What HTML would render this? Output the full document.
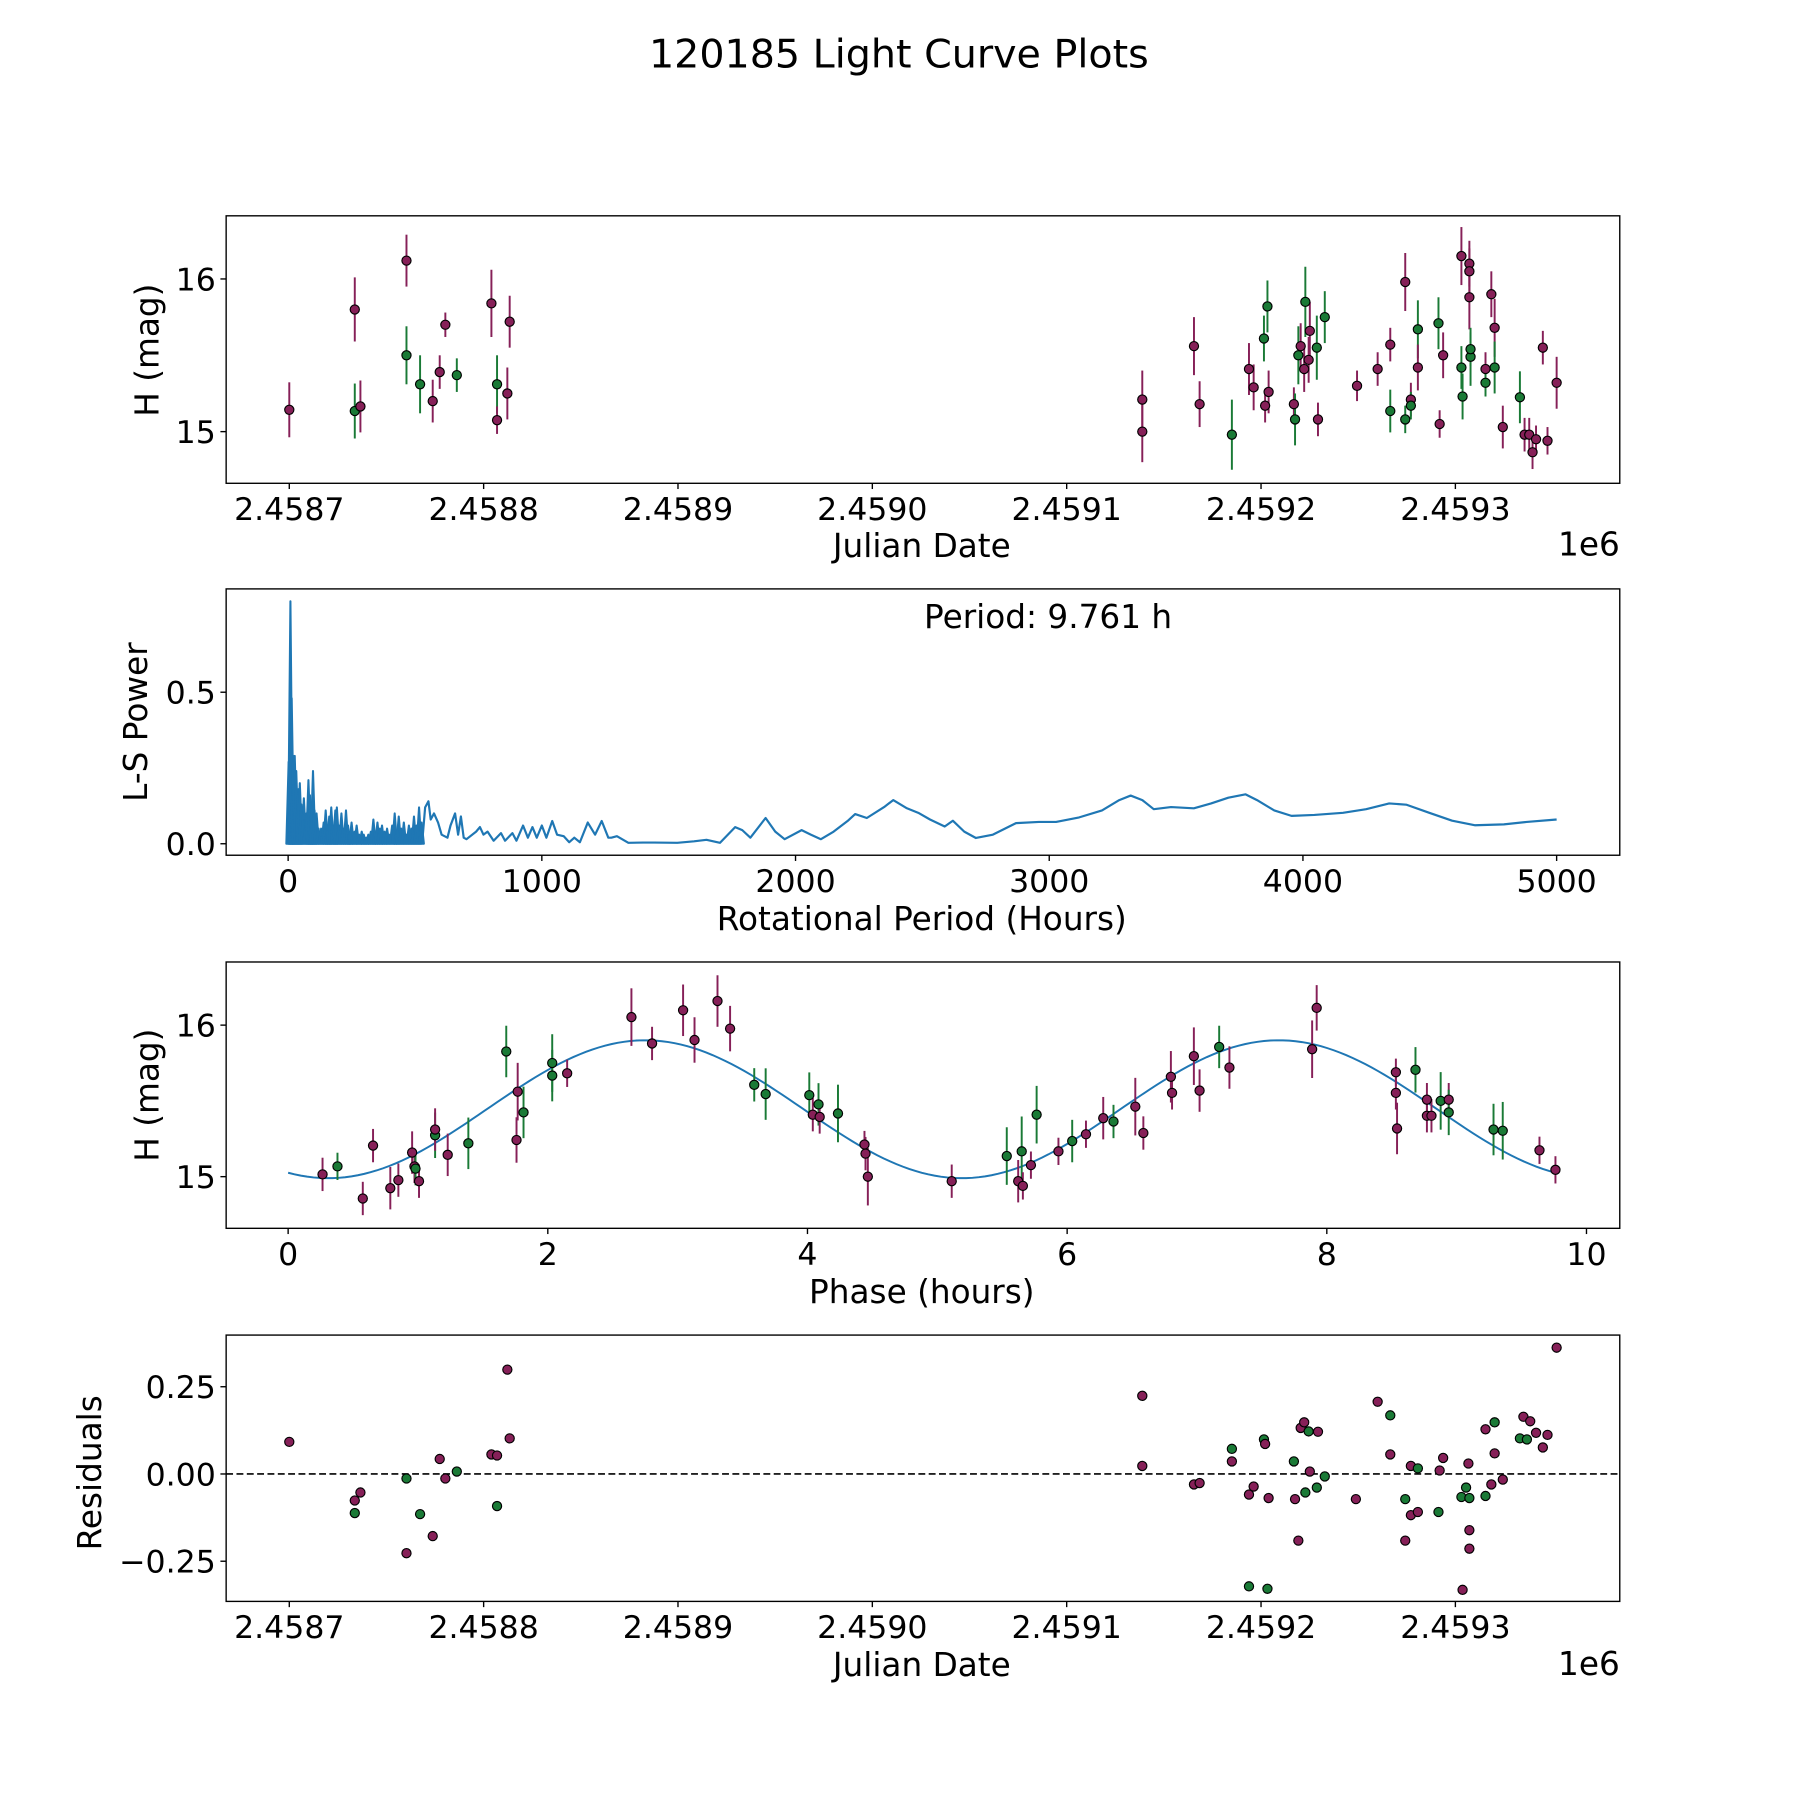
<!DOCTYPE html>
<html><head><meta charset="utf-8"><style>
html,body{margin:0;padding:0;background:#fff;}
svg{display:block;font-family:"DejaVu Sans","Liberation Sans",sans-serif;}
</style></head><body>
<svg id="fig" width="1800" height="1800" viewBox="0 0 1568 1568" xmlns="http://www.w3.org/2000/svg">
<rect width="1568" height="1568" fill="#fff"/>
<text x="783" y="59" font-size="34.5" text-anchor="middle">120185 Light Curve Plots</text>
<g id="p1"></g>
<g id="p2"></g>
<g id="p3"></g>
<g id="p4"></g>
</svg>
<script>
// ---- Light curve data (JD = 2458700 + offset days) ----
const jdBase = 2458700;
const lcOffset = [0,33.7,33.7,36.6,60.3,60.3,67.3,73.8,77.4,80.3,86.2,104.0,106.9,106.9,112.2,113.4,
438.9,438.9,465.5,468.4,485.0,493.8,496.2,501.5,502.1,503.3,503.9,516.9,517.5,519.2,520.4,522.2,522.8,524.5,525.1,528.7,529.3,532.8,549.4,560.0,566.5,566.5,574.2,574.2,577.1,577.1,580.7,580.7,591.3,591.9,593.7,603.1,603.1,603.7,607.2,607.2,607.2,607.8,607.8,615.5,615.5,618.5,620.2,620.2,624.4,633.2,635.6,638.0,639.7,641.5,645.0,647.4,652.1];
const lcMag = [15.143,15.80,15.135,15.165,16.12,15.50,15.31,15.20,15.39,15.70,15.37,15.84,15.31,15.075,15.25,15.72,
15.21,15.0,15.56,15.18,14.98,15.41,15.29,15.61,15.17,15.82,15.26,15.18,15.08,15.50,15.56,15.41,15.85,15.47,15.66,15.55,15.08,15.75,15.30,15.41,15.57,15.135,15.98,15.08,15.21,15.17,15.67,15.42,15.71,15.05,15.50,16.15,15.42,15.23,16.10,16.05,15.88,15.49,15.54,15.41,15.32,15.90,15.68,15.42,15.03,15.225,14.98,14.98,14.865,14.95,15.55,14.94,15.32];
const lcErr = [0.18,0.21,0.18,0.17,0.17,0.19,0.19,0.14,0.11,0.08,0.11,0.22,0.19,0.09,0.17,0.17,
0.19,0.2,0.19,0.15,0.23,0.17,0.15,0.15,0.11,0.17,0.14,0.11,0.17,0.19,0.15,0.15,0.23,0.15,0.19,0.21,0.11,0.17,0.10,0.11,0.11,0.14,0.19,0.09,0.11,0.09,0.19,0.15,0.17,0.09,0.15,0.19,0.14,0.15,0.15,0.15,0.21,0.19,0.11,0.11,0.09,0.15,0.19,0.17,0.14,0.17,0.11,0.11,0.11,0.09,0.11,0.09,0.17];
const lcBand = ['m','m','g','m','m','g','g','m','m','m','g','m','g','m','m','m',
'm','m','m','m','g','m','m','g','m','g','m','m','g','g','m','m','g','m','m','g','m','g','m','m','m','g','m','g','m','g','g','m','g','m','m','m','g','g','m','m','m','g','g','m','g','m','m','g','m','g','m','m','m','m','m','m','m'];

// ---- Periodogram data ----
const spikePeriod = [2,9,14,20,26,32,40,46,52,62,72,80,86,92,98,104,112,120,130,140,148,156,162,170,178,186,192,200,210,218,228,236,244,250,262,270,280,290,298,308,316,326,336,344,352,362,370,380,390,398,410,420,428,436,446,456,466,476,486,496,506,516,526];
const spikePower = [0.27,0.80,0.48,0.29,0.29,0.24,0.18,0.20,0.13,0.15,0.10,0.21,0.16,0.12,0.24,0.11,0.10,0.05,0.05,0.07,0.11,0.06,0.09,0.12,0.06,0.11,0.12,0.06,0.10,0.05,0.11,0.06,0.04,0.07,0.04,0.06,0.03,0.04,0.03,0.02,0.03,0.04,0.08,0.04,0.07,0.05,0.06,0.04,0.05,0.03,0.06,0.10,0.04,0.09,0.05,0.07,0.03,0.06,0.05,0.09,0.06,0.12,0.07];
const lsPeriod = [531,540,553,562,575,591,605,628,640,658,670,681,692,703,741,756,770,786,810,839,855,884,900,926,945,963,980,1000,1018,1041,1060,1086,1108,1128,1150,1181,1210,1236,1262,1274,1296,1341,1400,1443,1534,1600,1649,1702,1762,1790,1822,1882,1920,1957,2024,2060,2100,2150,2205,2235,2281,2349,2385,2439,2484,2530,2588,2620,2665,2711,2778,2869,2959,3027,3118,3208,3276,3321,3367,3412,3480,3570,3638,3706,3774,3819,3887,3955,4045,4158,4249,4340,4407,4498,4588,4679,4792,4882,5000];
const lsPower = [0.03,0.12,0.14,0.08,0.10,0.07,0.03,0.02,0.06,0.10,0.03,0.09,0.02,0.015,0.04,0.055,0.03,0.04,0.01,0.035,0.01,0.035,0.01,0.06,0.02,0.055,0.02,0.06,0.02,0.075,0.03,0.025,0.005,0.02,0.005,0.07,0.03,0.075,0.02,0.02,0.025,0.003,0.004,0.004,0.003,0.008,0.013,0.003,0.055,0.045,0.02,0.085,0.04,0.015,0.045,0.03,0.015,0.04,0.075,0.098,0.085,0.121,0.144,0.117,0.102,0.080,0.057,0.076,0.040,0.019,0.030,0.068,0.072,0.072,0.087,0.110,0.144,0.159,0.144,0.114,0.121,0.117,0.133,0.152,0.163,0.144,0.110,0.092,0.095,0.102,0.114,0.133,0.129,0.102,0.076,0.061,0.064,0.072,0.080];
const bestPeriod = ["Period: 9.761 h"];

// ---- Phase-folded data ----
const phPhase = [0.265,0.380,0.575,0.654,0.787,0.849,0.955,0.973,0.981,1.008,1.132,1.132,1.229,1.388,1.680,1.759,1.768,1.813,2.034,2.034,2.149,2.644,2.803,3.042,3.130,3.307,3.404,3.590,3.678,4.014,4.041,4.085,4.094,4.235,4.439,4.447,4.465,5.111,5.535,5.623,5.650,5.659,5.721,5.765,5.933,6.039,6.145,6.278,6.357,6.525,6.587,6.799,6.808,6.976,7.020,7.171,7.250,7.887,7.922,8.532,8.532,8.541,8.683,8.771,8.771,8.806,8.877,8.939,8.939,9.284,9.355,9.638,9.761];
const phMag = [15.015,15.068,14.856,15.205,14.924,14.977,15.159,15.068,15.053,14.970,15.273,15.311,15.144,15.220,15.826,15.242,15.561,15.424,15.667,15.750,15.682,16.053,15.879,16.098,15.902,16.159,15.977,15.606,15.545,15.538,15.409,15.477,15.394,15.417,15.212,15.152,15.0,14.970,15.136,14.970,15.167,14.939,15.076,15.409,15.167,15.235,15.280,15.386,15.364,15.462,15.288,15.659,15.553,15.795,15.568,15.856,15.720,15.841,16.114,15.689,15.553,15.318,15.705,15.508,15.402,15.402,15.500,15.508,15.424,15.311,15.303,15.174,15.045];
const phErr = [0.11,0.09,0.11,0.11,0.14,0.11,0.14,0.11,0.11,0.11,0.15,0.14,0.14,0.17,0.17,0.15,0.19,0.17,0.17,0.19,0.09,0.19,0.11,0.17,0.15,0.17,0.15,0.11,0.17,0.15,0.11,0.14,0.11,0.19,0.09,0.11,0.19,0.11,0.19,0.14,0.23,0.09,0.09,0.19,0.09,0.14,0.09,0.14,0.11,0.19,0.11,0.17,0.11,0.19,0.14,0.14,0.14,0.19,0.15,0.09,0.11,0.17,0.15,0.11,0.11,0.11,0.19,0.11,0.15,0.17,0.19,0.09,0.09];
const phBand = ['m','g','m','m','m','m','m','m','g','m','g','m','m','g','g','m','m','g','g','g','m','m','m','m','m','m','m','g','g','g','m','g','m','g','m','m','m','m','g','m','g','m','m','g','m','g','m','m','g','m','m','m','m','m','m','g','m','m','m','m','m','m','g','m','m','m','g','m','g','g','g','m','m'];
const fitParams = [15.445, 0.455, 4.88, 1.53]; // mean, amplitude, period(h), phase offset

// ---- Residuals ----
const resOffset = [0,33.7,33.7,36.6,60.3,60.3,67.3,73.8,77.4,80.3,86.2,104.0,106.9,106.9,112.2,113.4,
438.9,438.9,465.5,468.4,485.0,485.0,493.8,493.8,496.2,501.5,502.1,503.3,503.9,516.9,517.5,519.2,520.4,522.2,522.8,524.5,525.1,528.7,529.3,532.8,548.8,560.0,566.5,566.5,574.2,574.2,577.1,577.1,580.7,580.7,591.3,591.9,593.7,603.1,603.7,605.5,606.7,607.2,607.2,607.2,615.5,615.5,618.5,620.2,620.2,624.4,633.2,635.0,636.8,638.5,641.5,645.0,647.4,652.1];
const resVal = [0.092,-0.076,-0.112,-0.053,-0.013,-0.227,-0.115,-0.178,0.043,-0.013,0.007,0.056,0.053,-0.092,0.299,0.102,
0.224,0.023,-0.030,-0.026,0.072,0.036,-0.322,-0.059,-0.036,0.099,0.086,-0.329,-0.069,0.036,-0.072,-0.191,0.132,0.148,-0.053,0.122,0.007,-0.039,0.121,-0.007,-0.072,0.207,0.056,0.168,-0.072,-0.191,0.023,-0.118,0.016,-0.109,-0.109,0.010,0.046,-0.066,-0.332,-0.039,0.030,-0.069,-0.161,-0.214,0.128,-0.063,-0.030,0.148,0.059,-0.016,0.102,0.164,0.099,0.151,0.118,0.076,0.112,0.362];
const resBand = ['m','m','g','m','g','m','g','m','m','m','g','m','m','g','m','m',
'm','m','m','m','g','m','g','m','m','g','m','g','m','g','m','m','m','m','g','g','m','g','m','g','m','m','m','g','g','m','m','m','g','m','g','m','m','g','m','g','m','g','m','m','m','g','m','g','m','m','g','m','g','m','m','m','m','m'];

const tickX1 = [2458700,2458800,2458900,2459000,2459100,2459200,2459300];
const tickX1Labels = ["2.4587","2.4588","2.4589","2.4590","2.4591","2.4592","2.4593"];
const tickMag = [15,16];
const tickPeriod = [0,1000,2000,3000,4000,5000];
const tickLS = [0,0.5];
const tickLSLabels = ["0.0","0.5"];
const tickPhase = [0,2,4,6,8,10];
const tickRes = [-0.25,0,0.25];
const tickResLabels = ["\u22120.25","0.00","0.25"];

const NS = "http://www.w3.org/2000/svg";
const COL = {m:{e:'#862058',f:'#862058'}, g:{e:'#1a7a36',f:'#1a7a36'}};
function el(tag, attrs, parent){const e=document.createElementNS(NS,tag);for(const k in attrs)e.setAttribute(k,attrs[k]);parent.appendChild(e);return e;}
function lin(d0,d1,p0,p1){return v=>p0+(v-d0)*(p1-p0)/(d1-d0);}

function frame(g,L,T,R,B){
  const r=el('rect',{x:L,y:T,width:R-L,height:B-T,fill:'none',stroke:'#000','stroke-width':1.2},g);
  
  
}
function xTicks(g,vals,labels,sx,B,name){
  vals.forEach((v,i)=>{const x=sx(v);
    el('line',{x1:x,y1:B,x2:x,y2:B+5,stroke:'#000','stroke-width':1.2},g);
    const t=el('text',{x:x,y:B+32,'font-size':27.5,'text-anchor':'middle'},g);
    
    
    t.textContent=labels[i];});
}
function yTicks(g,vals,labels,sy,L,name){
  vals.forEach((v,i)=>{const y=sy(v);
    el('line',{x1:L-5,y1:y,x2:L,y2:y,stroke:'#000','stroke-width':1.2},g);
    const t=el('text',{x:L-9,y:y+10,'font-size':27.5,'text-anchor':'end'},g);
    
    
    t.textContent=labels[i];});
}
function label(g,txt,x,y,rot,name){
  const t=el('text',{x:x,y:y,'font-size':28.5,'text-anchor':'middle'},g);
  if(rot)t.setAttribute('transform','rotate(-90 '+x+' '+y+')');
  
  
  t.textContent=txt;
}
function errPoints(g,xs,ys,es,bands,sx,sy,name){
  xs.forEach((xv,i)=>{const c=COL[bands[i]];const x=sx(xv);
    if(es){const l=el('line',{x1:x,y1:sy(ys[i]-es[i]),x2:x,y2:sy(ys[i]+es[i]),stroke:c.e,'stroke-width':1.7},g);
      
      }
  });
  xs.forEach((xv,i)=>{const c=COL[bands[i]];
    const p=el('circle',{cx:sx(xv),cy:sy(ys[i]),r:4,fill:c.f,stroke:'#000','stroke-width':1},g);
    
    });
}

// Panel 1
(function(){const g=document.getElementById('p1');const L=197,T=188,R=1411,B=421;
  const sx=lin(2458700,2458800,252,421.3), sy=lin(15,16,376,243);
  frame(g,L,T,R,B);
  errPoints(g,lcOffset.map(o=>jdBase+o),lcMag,lcErr,lcBand,sx,sy,'lightcurve-point');
  xTicks(g,tickX1,tickX1Labels,sx,B,'x-tick-label');
  yTicks(g,tickMag,tickMag.map(String),sy,L,'y-tick-label');
  label(g,'Julian Date',803,485,false,'x-axis-title');
  label(g,'H (mag)',138,305,true,'y-axis-title');
  const o=el('text',{x:1411,y:484,'font-size':28.5,'text-anchor':'end'},g);
  
  
  o.textContent='1e6';
})();

// Panel 2
(function(){const g=document.getElementById('p2');const L=197,T=513,R=1411,B=745;
  const sx=lin(0,5000,251,1356), sy=lin(0,0.5,735,603);
  frame(g,L,T,R,B);
  spikePeriod.forEach((p,i)=>{const x=sx(p);
    const s=el('path',{d:'M'+(x-2)+','+sy(0)+'L'+x+','+sy(spikePower[i])+'L'+(x+2)+','+sy(0)+'Z',fill:'#1f77b4',stroke:'#1f77b4','stroke-width':1.8,'stroke-linejoin':'round'},g);
    
    });
  const pts=[[spikePeriod[spikePeriod.length-1],0]].concat(lsPeriod.map((p,i)=>[p,lsPower[i]]));
  const line=el('polyline',{points:pts.map(p=>sx(p[0])+','+sy(p[1])).join(' '),fill:'none',stroke:'#1f77b4','stroke-width':1.9,'stroke-linejoin':'round'},g);
  
  
  xTicks(g,tickPeriod,tickPeriod.map(String),sx,B,'x-tick-label');
  yTicks(g,tickLS,tickLSLabels,sy,L,'y-tick-label');
  label(g,'Rotational Period (Hours)',803,810,false,'x-axis-title');
  label(g,'L-S Power',128,629,true,'y-axis-title');
  const t=el('text',{x:913,y:547,'font-size':28.5,'text-anchor':'middle'},g);
  
  
  t.textContent=bestPeriod[0];
})();

// Panel 3
(function(){const g=document.getElementById('p3');const L=197,T=838,R=1411,B=1070;
  const sx=lin(0,10,251,1382), sy=lin(15,16,1025,893);
  frame(g,L,T,R,B);
  const maxP=phPhase[phPhase.length-1];const pts=[];
  for(let k=0;k<=200;k++){const t=maxP*k/200;
    const m=fitParams[0]+fitParams[1]*Math.sin(2*Math.PI*(t-fitParams[3])/fitParams[2]);
    pts.push(sx(t)+','+sy(m));}
  const fl=el('polyline',{points:pts.join(' '),fill:'none',stroke:'#1f77b4','stroke-width':1.7},g);
  
  
  errPoints(g,phPhase,phMag,phErr,phBand,sx,sy,'phase-point');
  xTicks(g,tickPhase,tickPhase.map(String),sx,B,'x-tick-label');
  yTicks(g,tickMag,tickMag.map(String),sy,L,'y-tick-label');
  label(g,'Phase (hours)',803,1135,false,'x-axis-title');
  label(g,'H (mag)',138,954,true,'y-axis-title');
})();

// Panel 4
(function(){const g=document.getElementById('p4');const L=197,T=1163,R=1411,B=1395;
  const sx=lin(2458700,2458800,252,421.3), sy=lin(0,0.25,1284,1208);
  frame(g,L,T,R,B);
  const z=el('line',{x1:L,y1:sy(0),x2:R,y2:sy(0),stroke:'#000','stroke-width':1.4,'stroke-dasharray':'6,3'},g);
  
  
  errPoints(g,resOffset.map(o=>jdBase+o),resVal,null,resBand,sx,sy,'residual-point');
  xTicks(g,tickX1,tickX1Labels,sx,B,'x-tick-label');
  yTicks(g,tickRes,tickResLabels,sy,L,'y-tick-label');
  label(g,'Julian Date',803,1460,false,'x-axis-title');
  label(g,'Residuals',88,1283,true,'y-axis-title');
  const o=el('text',{x:1411,y:1459,'font-size':28.5,'text-anchor':'end'},g);
  
  
  o.textContent='1e6';
})();
</script>
</body></html>
